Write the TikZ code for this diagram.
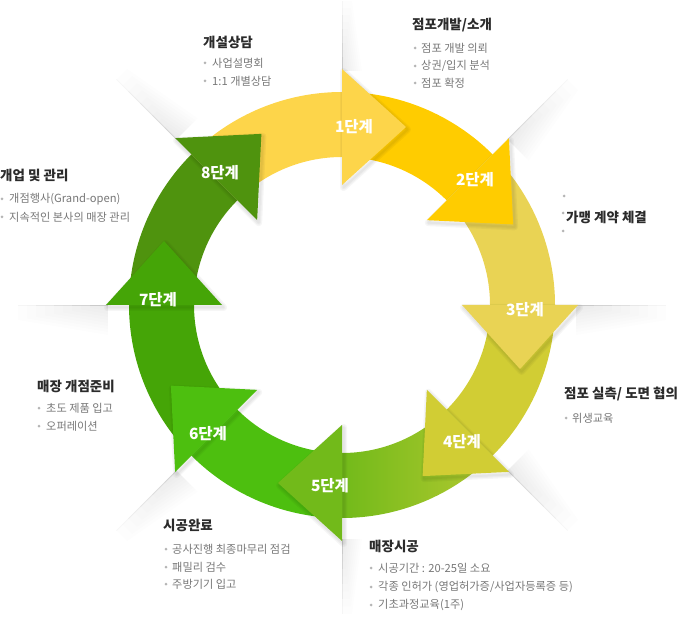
\documentclass[tikz,border=0pt]{standalone}
\usepackage{fontspec}
\setmainfont{Noto Sans CJK KR}
\usetikzlibrary{calc}
\definecolor{cA}{HTML}{FDD54A}
\definecolor{cB}{HTML}{FFCC00}
\definecolor{cC}{HTML}{E9D354}
\definecolor{cD}{HTML}{D1CD34}
\definecolor{cEg}{HTML}{72BA1A}
\definecolor{cEy}{HTML}{B2C930}
\definecolor{cF}{HTML}{4DBF0F}
\definecolor{cG}{HTML}{45A507}
\definecolor{cH}{HTML}{4F930E}
\definecolor{headc}{HTML}{2B2B2B}
\definecolor{itemc}{HTML}{777777}
\definecolor{dotc}{HTML}{B5B5B5}
\tikzset{
  headtxt/.style={anchor=west,inner sep=0,text=headc,font=\fontsize{13.5}{15}\selectfont\bfseries},
  itemtxt/.style={anchor=west,inner sep=0,text=itemc,font=\fontsize{11.2}{12}\selectfont},
  steptxt/.style={inner sep=0,text=white,font=\fontsize{15.5}{17}\selectfont\bfseries},
  bdot/.style={fill=dotc}
}
\newcommand{\RIN}{148}
\newcommand{\ROUT}{213}
\begin{document}
\begin{tikzpicture}[x=1pt,y=1pt]
\useasboundingbox (0,0) rectangle (684,632);
\coordinate (C) at (342,327);

% faint shadow rays behind the ring
\foreach \a/\s/\L/\W in {90/-1/70/20, 45/-1/85/30, 0/-1/90/30, -45/1/85/30, -90/1/75/20, -135/1/85/30, 180/1/90/30, 135/-1/85/30}{
  \begin{scope}[shift={(C)},rotate=\a]
    \foreach \k in {1,...,10}{
      \fill[black,opacity=0.007] (234,0) -- (234+\L*\k/10,0) -- (234+\L*\k/10,\s*\W*\k/20) -- (234,\s*\W*\k/10) -- cycle;
    }
    \foreach \k in {1,...,5}{
      \draw[black,opacity=0.03,line width=0.7] (234,0) -- (234+\L*\k/5,0);
    }
  \end{scope}
}

% ring bodies
\begin{scope}[shift={(C)}]
  \foreach \a/\c in {135/cA, 90/cB, 45/cC, 0/cD, -90/cF, -135/cG, 180/cH}{
    \fill[\c] (\a:\ROUT) arc[start angle=\a,end angle=\a-45,radius=\ROUT]
      -- (\a-45:\RIN) arc[start angle=\a-45,end angle=\a,radius=\RIN] -- cycle;
  }
  \shade[left color=cEg,right color=cEy] (-45:\ROUT) arc[start angle=-45,end angle=-90,radius=\ROUT]
      -- (-90:\RIN) arc[start angle=-90,end angle=-45,radius=\RIN] -- cycle;

  % head shadows
  \foreach \a in {90,45,0,-45,-90,-135,180,135}{
    \begin{scope}[shift={(1.5,-2.5)}]
    \foreach \w in {7,4.5,2}{
      \draw[black,draw opacity=0.035,line width=\w,line join=round]
        (\a:120) -- (\a:236) -- ([shift={(\a-90:64)}]\a:178) -- cycle;
    }
    \end{scope}
  }
  % heads
  \foreach \a/\c in {90/cA, 45/cB, 0/cC, -45/cD, -90/cEg, -135/cF, 180/cG, 135/cH}{
    \fill[\c] (\a:120) -- (\a:236) -- ([shift={(\a-90:64)}]\a:178) -- cycle;
  }
\end{scope}

% step labels
\node[steptxt] (s1) at (354,505) {1단계};
\node[steptxt] (s2) at (475,452) {2단계};
\node[steptxt] (s3) at (525,322) {3단계};
\node[steptxt] (s4) at (462,190) {4단계};
\node[steptxt] (s5) at (330,146) {5단계};
\node[steptxt] (s6) at (208,198) {6단계};
\node[steptxt] (s7) at (158,332) {7단계};
\node[steptxt] (s8) at (220,459) {8단계};

% 개설상담
\node[headtxt] (t1) at (203,590) {개설상담};
\fill[bdot] (205,569) circle (1.5); \node[itemtxt] (t1a) at (212,569) {사업설명회};
\fill[bdot] (205,551) circle (1.5); \node[itemtxt] (t1b) at (212,551) {1:1 개별상담};

% 점포개발/소개
\node[headtxt] (t2) at (412,607) {점포개발/소개};
\fill[bdot] (415,584) circle (1.5); \node[itemtxt] (t2a) at (421,584) {점포 개발 의뢰};
\fill[bdot] (415,566) circle (1.5); \node[itemtxt] (t2b) at (421,566) {상권/입지 분석};
\fill[bdot] (415,549) circle (1.5); \node[itemtxt] (t2c) at (421,549) {점포 확정};

% 가맹 계약 체결
\fill[bdot] (564,436) circle (1.5);
\fill[bdot] (563,419) circle (1.5);
\fill[bdot] (563,401) circle (1.5);
\node[headtxt] (t3) at (566,415) {가맹 계약 체결};

% 점포 실측/ 도면 협의
\node[headtxt] (t4) at (564,238) {점포 실측/ 도면 협의};
\fill[bdot] (566,214) circle (1.5); \node[itemtxt] (t4a) at (572,214) {위생교육};

% 매장시공
\node[headtxt] (t5) at (369,86) {매장시공};
\fill[bdot] (371,64) circle (1.5); \node[itemtxt] (t5a) at (378,64) {시공기간 : 20-25일 소요};
\fill[bdot] (371,45) circle (1.5); \node[itemtxt] (t5b) at (378,45) {각종 인허가 (영업허가증/사업자등록증 등)};
\fill[bdot] (371,27) circle (1.5); \node[itemtxt] (t5c) at (378,27) {기초과정교육(1주)};

% 시공완료
\node[headtxt] (t6) at (163,107) {시공완료};
\fill[bdot] (166,83) circle (1.5); \node[itemtxt] (t6a) at (172,83) {공사진행 최종마무리 점검};
\fill[bdot] (166,65) circle (1.5); \node[itemtxt] (t6b) at (172,65) {패밀리 검수};
\fill[bdot] (166,48) circle (1.5); \node[itemtxt] (t6c) at (172,48) {주방기기 입고};

% 매장 개점준비
\node[headtxt] (t7) at (37,246) {매장 개점준비};
\fill[bdot] (39,224) circle (1.5); \node[itemtxt] (t7a) at (46,224) {초도 제품 입고};
\fill[bdot] (39,206) circle (1.5); \node[itemtxt] (t7b) at (46,206) {오퍼레이션};

% 개업 및 관리
\node[headtxt] (t8) at (0,457) {개업 및 관리};
\fill[bdot] (2,433) circle (1.5); \node[itemtxt] (t8a) at (9,433) {개점행사(Grand-open)};
\fill[bdot] (2,415) circle (1.5); \node[itemtxt] (t8b) at (9,415) {지속적인 본사의 매장 관리};
\end{tikzpicture}
\end{document}
